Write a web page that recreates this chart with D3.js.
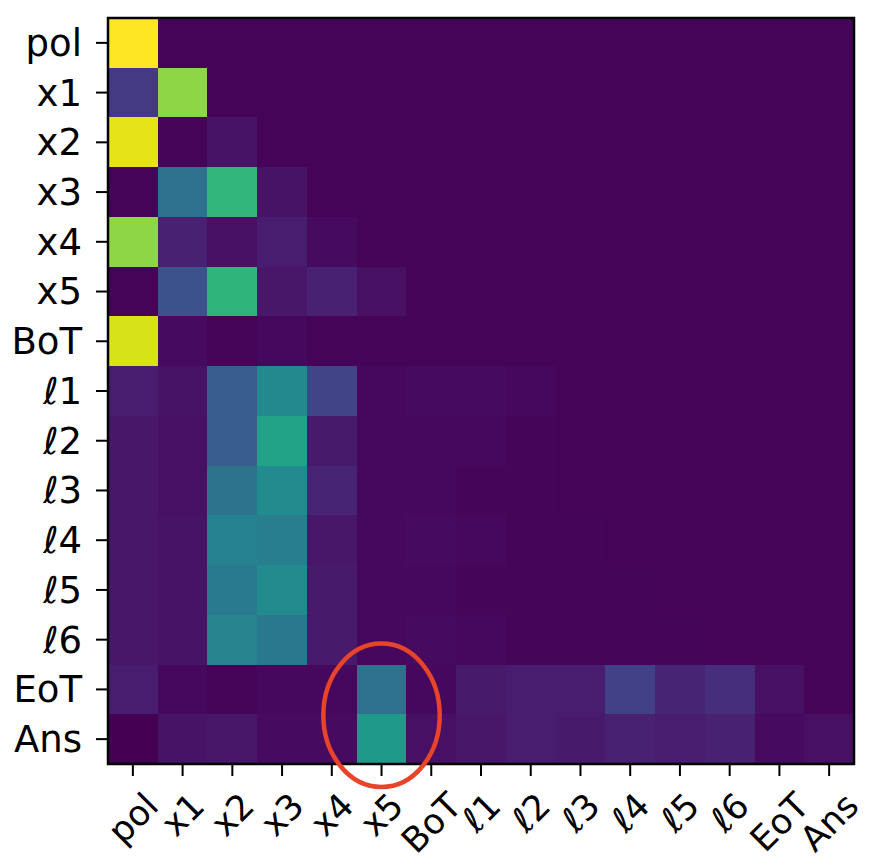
<!DOCTYPE html>
<html>
<head>
<meta charset="utf-8">
<script src="https://cdn.jsdelivr.net/npm/d3@7"></script>
<style>
  body { margin: 0; background: #fff; }
  text { font-family: "DejaVu Sans", sans-serif; }
</style>
</head>
<body>
<svg width="870" height="864"></svg>
<script>
var labels = ["pol", "x1", "x2", "x3", "x4", "x5", "BoT", "\u21131", "\u21132", "\u21133", "\u21134", "\u21135", "\u21136", "EoT", "Ans"];

// attention weights, one row per query token (normalised 0..1)
var rowPol = [1.00, 0.01, 0.01, 0.01, 0.01, 0.01, 0.01, 0.01, 0.01, 0.01, 0.01, 0.01, 0.01, 0.01, 0.01];
var rowX1  = [0.17, 0.83, 0.01, 0.01, 0.01, 0.01, 0.01, 0.01, 0.01, 0.01, 0.01, 0.01, 0.01, 0.01, 0.01];
var rowX2  = [0.96, 0.01, 0.05, 0.01, 0.01, 0.01, 0.01, 0.01, 0.01, 0.01, 0.01, 0.01, 0.01, 0.01, 0.01];
var rowX3  = [0.01, 0.37, 0.66, 0.05, 0.01, 0.01, 0.01, 0.01, 0.01, 0.01, 0.01, 0.01, 0.01, 0.01, 0.01];
var rowX4  = [0.83, 0.09, 0.04, 0.08, 0.03, 0.01, 0.01, 0.01, 0.01, 0.01, 0.01, 0.01, 0.01, 0.01, 0.01];
var rowX5  = [0.01, 0.25, 0.65, 0.06, 0.09, 0.04, 0.01, 0.01, 0.01, 0.01, 0.01, 0.01, 0.01, 0.01, 0.01];
var rowBoT = [0.94, 0.03, 0.01, 0.02, 0.01, 0.01, 0.01, 0.01, 0.01, 0.01, 0.01, 0.01, 0.01, 0.01, 0.01];
var rowL1  = [0.08, 0.05, 0.29, 0.47, 0.20, 0.02, 0.03, 0.03, 0.02, 0.01, 0.01, 0.01, 0.01, 0.01, 0.01];
var rowL2  = [0.06, 0.04, 0.29, 0.58, 0.07, 0.02, 0.02, 0.02, 0.015, 0.01, 0.01, 0.01, 0.01, 0.01, 0.01];
var rowL3  = [0.06, 0.04, 0.38, 0.48, 0.10, 0.02, 0.02, 0.015, 0.015, 0.01, 0.01, 0.01, 0.01, 0.01, 0.01];
var rowL4  = [0.06, 0.05, 0.44, 0.42, 0.06, 0.02, 0.03, 0.02, 0.015, 0.015, 0.01, 0.01, 0.01, 0.01, 0.01];
var rowL5  = [0.06, 0.05, 0.41, 0.48, 0.07, 0.02, 0.02, 0.015, 0.015, 0.015, 0.015, 0.01, 0.01, 0.01, 0.01];
var rowL6  = [0.06, 0.05, 0.45, 0.40, 0.07, 0.02, 0.03, 0.02, 0.015, 0.015, 0.015, 0.015, 0.01, 0.01, 0.01];
var rowEoT = [0.08, 0.02, 0.01, 0.02, 0.02, 0.37, 0.02, 0.07, 0.08, 0.08, 0.19, 0.10, 0.13, 0.04, 0.01];
var rowAns = [0.00, 0.05, 0.06, 0.03, 0.03, 0.54, 0.04, 0.06, 0.08, 0.07, 0.09, 0.08, 0.09, 0.03, 0.04];

var rows = [rowPol, rowX1, rowX2, rowX3, rowX4, rowX5, rowBoT, rowL1, rowL2, rowL3, rowL4, rowL5, rowL6, rowEoT, rowAns];

// highlighted cell (row, column)
var highlight = ["EoT", "x5"];
var highlightEnd = "Ans";

var svg = d3.select("svg"),
    margin = {top: 18, left: 108},
    size = 746,
    fontSize = 37,
    xFontSize = 35;

var cells = [];
rows.forEach(function (r, i) {
  r.forEach(function (v, j) {
    cells.push({row: labels[i], col: labels[j], value: v});
  });
});

var x = d3.scaleBand().domain(labels).range([0, size]);
var y = d3.scaleBand().domain(labels).range([0, size]);
var color = d3.scaleSequential(d3.interpolateViridis).domain([0, 1]);

var g = svg.append("g").attr("transform", "translate(" + margin.left + "," + margin.top + ")");

g.selectAll("rect.cell").data(cells).enter().append("rect")
  .attr("class", "cell")
  .attr("x", function (d) { return x(d.col); })
  .attr("y", function (d) { return y(d.row); })
  .attr("width", x.bandwidth() + 0.5)
  .attr("height", y.bandwidth() + 0.5)
  .attr("fill", function (d) { return color(d.value); })
  .attr("shape-rendering", "crispEdges");

var yAxis = g.append("g").call(d3.axisLeft(y).tickSize(12).tickPadding(14));
var xAxis = g.append("g").attr("transform", "translate(0," + size + ")")
  .call(d3.axisBottom(x).tickSize(12).tickPadding(4));

[xAxis, yAxis].forEach(function (a) {
  a.select(".domain").remove();
  a.selectAll(".tick line").attr("stroke", "#000").attr("stroke-width", 2);
  a.selectAll(".tick text").attr("fill", "#000").attr("font-family", "DejaVu Sans, sans-serif");
});
yAxis.selectAll(".tick text").attr("font-size", fontSize).attr("dy", "0.35em");
xAxis.selectAll(".tick text").attr("font-size", xFontSize);

// matplotlib style rotated labels: rotated bbox centred under the tick
xAxis.selectAll(".tick text").each(function () {
  var t = d3.select(this);
  var w = this.getComputedTextLength();
  var h = xFontSize * 0.75;
  var half = (w + h) / (2 * Math.SQRT2);
  t.attr("text-anchor", "middle")
    .attr("y", null).attr("dy", "0.35em")
    .attr("transform", "translate(0," + (26 + half) + ") rotate(-45)");
});

g.append("rect")
  .attr("width", size).attr("height", size)
  .attr("fill", "none").attr("stroke", "#000").attr("stroke-width", 2.5);

// red ellipse around the x5 column for EoT / Ans
var cx = x(highlight[1]) + x.bandwidth() / 2,
    y0 = y(highlight[0]),
    y1 = y(highlightEnd) + y.bandwidth();
g.append("ellipse")
  .attr("cx", cx)
  .attr("cy", (y0 + y1) / 2 + 1)
  .attr("rx", x.bandwidth() * 1.17)
  .attr("ry", (y1 - y0) / 2 + 22)
  .attr("fill", "none")
  .attr("stroke", "#e8432b")
  .attr("stroke-width", 4.5);
</script>
</body>
</html>
